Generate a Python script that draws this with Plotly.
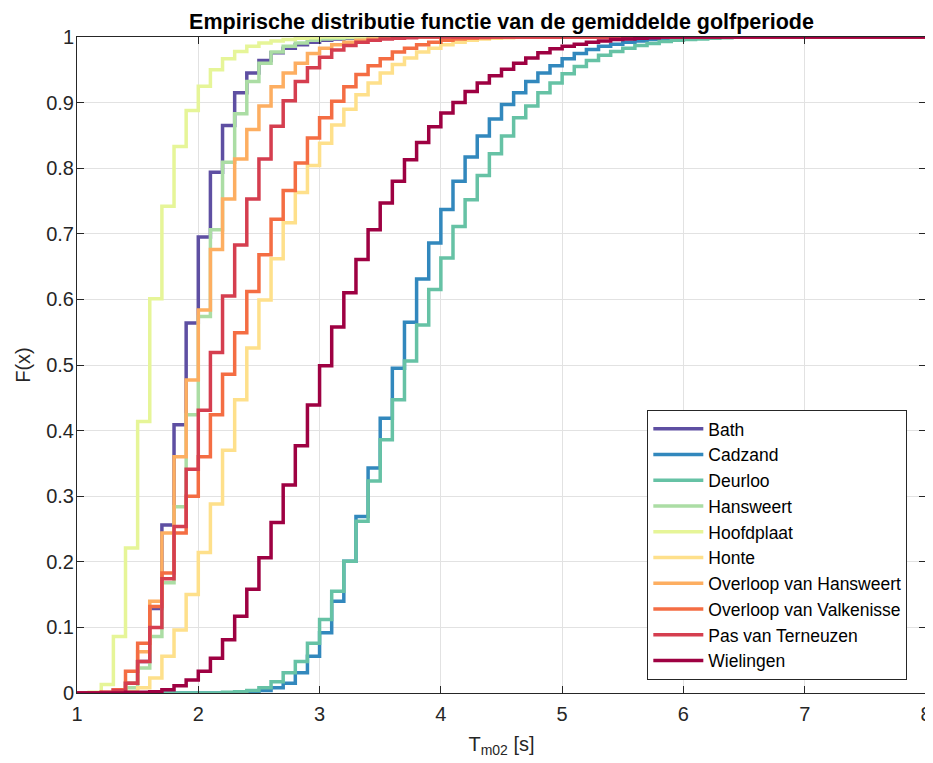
import numpy as np
import plotly.graph_objects as go

# Empirical CDF values per 0.1 s bin, starting at the first x listed;
# before that the CDF is 0, after the last value it is 1.
names = ["Bath", "Cadzand", "Deurloo", "Hansweert", "Hoofdplaat", "Honte",
         "Overloop van Hansweert", "Overloop van Valkenisse", "Pas van Terneuzen", "Wielingen"]
colors = ["#5e4fa2", "#3288bd", "#66c2a5", "#abdda4", "#e6f598", "#fee08b",
          "#fdae61", "#f46d43", "#d53e4f", "#9e0142"]

bath_start = 1.3
bath = [0.005, 0.015, 0.048, 0.129, 0.256, 0.409, 0.564, 0.695, 0.794, 0.865, 0.915,
        0.945, 0.964, 0.976, 0.983, 0.988, 0.992, 0.995, 0.997, 0.998, 0.999]

cadzand_start = 2.3
cadzand = [0.001, 0.002, 0.004, 0.008, 0.015, 0.031, 0.056, 0.092, 0.140, 0.201, 0.269,
           0.343, 0.419, 0.495, 0.565, 0.631, 0.686, 0.737, 0.780, 0.817, 0.849, 0.875,
           0.897, 0.915, 0.932, 0.945, 0.956, 0.967, 0.975, 0.981, 0.986, 0.989, 0.992,
           0.994, 0.996, 0.997, 0.998, 0.999]

deurloo_start = 2.2
deurloo = [0.001, 0.002, 0.004, 0.008, 0.017, 0.031, 0.048, 0.076, 0.112, 0.155, 0.201,
           0.262, 0.323, 0.386, 0.447, 0.506, 0.561, 0.615, 0.663, 0.711, 0.752, 0.789,
           0.822, 0.849, 0.877, 0.895, 0.915, 0.930, 0.944, 0.955, 0.964, 0.972, 0.978,
           0.983, 0.987, 0.990, 0.993, 0.995, 0.996, 0.997, 0.998, 0.999]

hansweert_start = 1.3
hansweert = [0.002, 0.008, 0.038, 0.086, 0.168, 0.284, 0.424, 0.574, 0.706, 0.809, 0.883,
             0.932, 0.960, 0.977, 0.986, 0.991, 0.995, 0.997, 0.998, 0.999]

hoofdplaat_start = 1.1
hoofdplaat = [0.001, 0.013, 0.086, 0.221, 0.414, 0.601, 0.742, 0.833, 0.888, 0.925, 0.950,
              0.967, 0.978, 0.986, 0.991, 0.994, 0.996, 0.998, 0.999]

honte_start = 1.4
honte = [0.002, 0.008, 0.023, 0.056, 0.096, 0.150, 0.214, 0.288, 0.370, 0.447, 0.526,
         0.599, 0.662, 0.717, 0.763, 0.804, 0.838, 0.866, 0.890, 0.912, 0.930, 0.945,
         0.958, 0.968, 0.977, 0.983, 0.988, 0.992, 0.995, 0.997, 0.998, 0.999]

ovl_hansweert_start = 1.3
ovl_hansweert = [0.003, 0.015, 0.063, 0.140, 0.244, 0.360, 0.477, 0.584, 0.676, 0.753,
                 0.814, 0.859, 0.895, 0.924, 0.945, 0.960, 0.975, 0.983, 0.988, 0.992,
                 0.995, 0.997, 0.998, 0.999]

ovl_valkenisse_start = 1.2
ovl_valkenisse = [0.001, 0.005, 0.033, 0.076, 0.132, 0.183, 0.244, 0.300, 0.360, 0.424,
                  0.486, 0.549, 0.612, 0.668, 0.722, 0.766, 0.808, 0.846, 0.877, 0.902,
                  0.924, 0.943, 0.956, 0.967, 0.977, 0.983, 0.988, 0.992, 0.995, 0.997,
                  0.998, 0.999]

terneuzen_start = 1.2
terneuzen = [0.001, 0.004, 0.015, 0.048, 0.100, 0.174, 0.254, 0.341, 0.431, 0.519, 0.605,
             0.683, 0.753, 0.814, 0.864, 0.903, 0.932, 0.953, 0.969, 0.980, 0.987, 0.992,
             0.995, 0.997, 0.998, 0.999]

wielingen_start = 1.4
wielingen = [0.001, 0.001, 0.002, 0.005, 0.011, 0.020, 0.033, 0.053, 0.081, 0.117, 0.158,
             0.206, 0.260, 0.317, 0.377, 0.439, 0.499, 0.558, 0.610, 0.661, 0.706, 0.747,
             0.780, 0.813, 0.839, 0.863, 0.884, 0.900, 0.917, 0.930, 0.941, 0.951, 0.960,
             0.968, 0.976, 0.982, 0.986, 0.989, 0.992, 0.994, 0.996, 0.997, 0.998, 0.999]

series = [(bath_start, bath), (cadzand_start, cadzand), (deurloo_start, deurloo),
          (hansweert_start, hansweert), (hoofdplaat_start, hoofdplaat), (honte_start, honte),
          (ovl_hansweert_start, ovl_hansweert), (ovl_valkenisse_start, ovl_valkenisse),
          (terneuzen_start, terneuzen), (wielingen_start, wielingen)]

x_ticks = [1, 2, 3, 4, 5, 6, 7, 8]
y_ticks = [0, 0.1, 0.2, 0.3, 0.4, 0.5, 0.6, 0.7, 0.8, 0.9, 1]

x_min, x_max, bin_w = 1.0, 8.0, 0.1
edges = np.round(np.arange(x_min, x_max + bin_w / 2, bin_w), 1)
n_bins = len(edges) - 1

font = "Liberation Sans, Arial, Helvetica, sans-serif"
axcol = "#262626"

fig = go.Figure()
for name, col, (start, vals) in zip(names, colors, series):
  n0 = int(round((start - x_min) / bin_w))
  y = [0.0] * n0 + list(vals)
  y = y + [1.0] * (n_bins - len(y))
  y = y + [y[-1]]
  fig.add_trace(go.Scatter(x=edges, y=y, mode="lines", name=name,
      line=dict(color=col, width=3.5, shape="hv")))

axis_common = dict(showline=True, linecolor=axcol, linewidth=1, mirror="ticks",
    ticks="inside", ticklen=7, tickcolor=axcol, showgrid=True, gridcolor="#e2e2e2",
    gridwidth=1, zeroline=False, automargin=False,
    tickfont=dict(family=font, size=20, color=axcol))

fig.update_xaxes(range=[1, 8], tickvals=x_ticks, ticktext=[str(v) for v in x_ticks],
    ticklabelstandoff=3,
    title=dict(text="T<sub>m02</sub> [s]", font=dict(family=font, size=20, color=axcol), standoff=12),
    **axis_common)
fig.update_yaxes(range=[0, 1], tickvals=y_ticks, ticktext=["%g" % v for v in y_ticks],
    ticklabelstandoff=-2,
    title=dict(text="F(x)", font=dict(family=font, size=20, color=axcol), standoff=10),
    **axis_common)

# the page body adds an 8 px offset, so the figure is 8 px smaller than the window
fig.update_layout(
  width=925, height=755,
  margin=dict(l=69, r=7, t=29, b=70),
  paper_bgcolor="white", plot_bgcolor="white",
  title=dict(text="<b>Empirische distributie functie van de gemiddelde golfperiode</b>",
      x=0.5, xref="paper", xanchor="center", y=1 - 13 / 755, yref="container", yanchor="middle",
      font=dict(family=font, size=21.5, color="black")),
  legend=dict(x=0.978, y=0.02, xanchor="right", yanchor="bottom", bgcolor="white",
      bordercolor=axcol, borderwidth=1, font=dict(family=font, size=17.5, color="black"),
      itemwidth=50),
  showlegend=True,
)

fig.write_html("out.html")
